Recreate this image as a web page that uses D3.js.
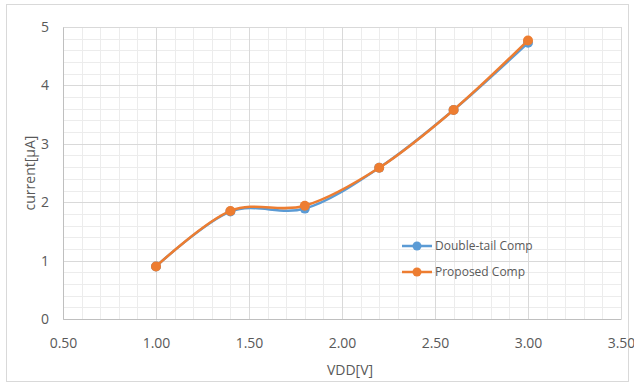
<!DOCTYPE html>
<meta charset="utf-8">
<style>
body { margin: 0; background: #fff; }
text { font-family: "Open Sans", sans-serif; fill: #595959; }
.grid line { stroke: #d9d9d9; stroke-width: 1px; }
.grid-minor line { stroke: #ececec; stroke-width: 1px; }
</style>
<svg width="634" height="383"></svg>
<script src="https://cdn.jsdelivr.net/npm/d3@7"></script>
<script>
// values
var vdd = [1.0, 1.4, 1.8, 2.2, 2.6, 3.0];
var doubleTail = [0.9, 1.84, 1.89, 2.59, 3.58, 4.73];
var proposed = [0.9, 1.85, 1.94, 2.59, 3.58, 4.77];
var xTicks = [0.5, 1.0, 1.5, 2.0, 2.5, 3.0, 3.5];
var yTicks = [0, 1, 2, 3, 4, 5];
var seriesNames = ["Double-tail Comp", "Proposed Comp"];
var colors = ["#5b9bd5", "#ed7d31"];

var svg = d3.select("svg"),
    margin = {top: 27, right: 13, bottom: 64, left: 63},
    width = 634 - margin.left - margin.right,
    height = 383 - margin.top - margin.bottom;

// chart frame
svg.append("rect")
    .attr("x", 6.5).attr("y", 4.5)
    .attr("width", 622).attr("height", 377)
    .attr("fill", "#fff").attr("stroke", "#d9d9d9");

var g = svg.append("g").attr("transform", "translate(" + margin.left + "," + margin.top + ")");

var x = d3.scaleLinear().domain([0.5, 3.5]).range([0, width]),
    y = d3.scaleLinear().domain([0, 5]).range([height, 0]);

// minor grid
g.append("g").attr("class", "grid-minor")
  .selectAll("line").data(d3.range(5, 36).map(function(d) { return d / 10; }))
  .enter().append("line")
    .attr("x1", function(d) { return Math.round(x(d)) + 0.5; })
    .attr("x2", function(d) { return Math.round(x(d)) + 0.5; })
    .attr("y1", 0).attr("y2", height);
g.append("g").attr("class", "grid-minor")
  .selectAll("line").data(d3.range(0, 26).map(function(d) { return d / 5; }))
  .enter().append("line")
    .attr("y1", function(d) { return Math.round(y(d)) + 0.5; })
    .attr("y2", function(d) { return Math.round(y(d)) + 0.5; })
    .attr("x1", 0).attr("x2", width);

// major grid
g.append("g").attr("class", "grid")
  .selectAll("line").data(xTicks)
  .enter().append("line")
    .attr("x1", function(d) { return Math.round(x(d)) + 0.5; })
    .attr("x2", function(d) { return Math.round(x(d)) + 0.5; })
    .attr("y1", 0).attr("y2", height);
g.append("g").attr("class", "grid")
  .selectAll("line").data(yTicks)
  .enter().append("line")
    .attr("y1", function(d) { return Math.round(y(d)) + 0.5; })
    .attr("y2", function(d) { return Math.round(y(d)) + 0.5; })
    .attr("x1", 0).attr("x2", width);

// axes
var xAxis = g.append("g")
    .attr("transform", "translate(0," + height + ")")
    .call(d3.axisBottom(x).tickValues(xTicks).tickFormat(d3.format(".2f")).tickSize(0).tickPadding(19));
xAxis.select(".domain").attr("stroke", "#bfbfbf");
xAxis.selectAll("text").style("font-size", "14px");

var yAxis = g.append("g")
    .call(d3.axisLeft(y).tickValues(yTicks).tickFormat(d3.format("d")).tickSize(0).tickPadding(14));
yAxis.select(".domain").attr("stroke", "#bfbfbf");
yAxis.selectAll("text").style("font-size", "14px");

svg.append("text")
    .attr("x", 350).attr("y", 375)
    .attr("text-anchor", "middle")
    .style("font-size", "14px")
    .text("VDD[V]");

svg.append("text")
    .attr("transform", "translate(35," + (margin.top + height / 2) + ") rotate(-90)")
    .attr("text-anchor", "middle")
    .style("font-size", "14px")
    .text("current[μA]");

var line = d3.line()
    .curve(d3.curveCardinal.tension(0))
    .x(function(d) { return x(d[0]); })
    .y(function(d) { return y(d[1]); });

[doubleTail, proposed].forEach(function(vals, i) {
  var pts = vdd.map(function(v, j) { return [v, vals[j]]; });
  g.append("path")
      .attr("d", line(pts))
      .attr("fill", "none")
      .attr("stroke", colors[i])
      .attr("stroke-width", 2.5);
  g.selectAll(".pt" + i).data(pts)
    .enter().append("circle")
      .attr("cx", function(d) { return x(d[0]); })
      .attr("cy", function(d) { return y(d[1]); })
      .attr("r", 5)
      .attr("fill", colors[i]);
});

// legend
var legend = svg.append("g").attr("transform", "translate(402,246)");
seriesNames.forEach(function(name, i) {
  var row = legend.append("g").attr("transform", "translate(0," + (i * 26) + ")");
  row.append("line").attr("x1", 0).attr("x2", 30).attr("y1", 0).attr("y2", 0)
      .attr("stroke", colors[i]).attr("stroke-width", 2.5);
  row.append("circle").attr("cx", 15).attr("cy", 0).attr("r", 4.5).attr("fill", colors[i]);
  row.append("text").attr("x", 33).attr("y", 0).attr("dy", "0.35em")
      .style("font-size", "12px").text(name);
});
</script>
